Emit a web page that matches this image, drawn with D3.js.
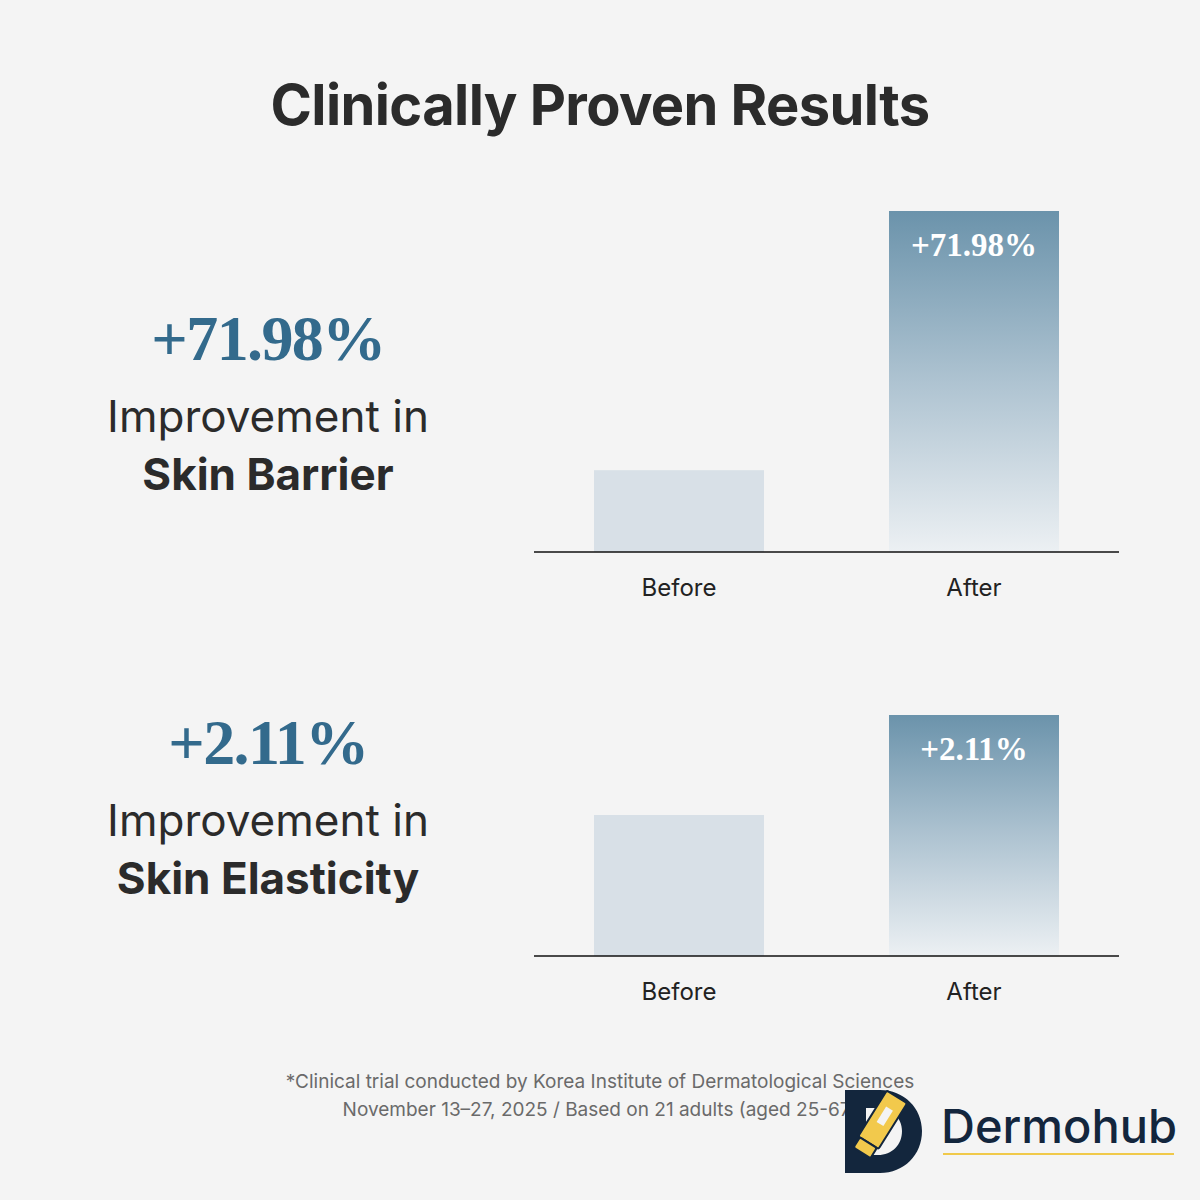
<!DOCTYPE html>
<html>
<head>
<meta charset="utf-8">
<script src="https://cdn.jsdelivr.net/npm/d3@7"></script>
<style>
  body { margin: 0; background: #f4f4f4; }
  svg { display: block; }
</style>
</head>
<body>
<div id="chart"></div>
<script>
// categories and values (bar heights are relative)
const categories = ["Before", "After"];
const barrierValues = [24, 100];
const elasticityValues = [58.5, 100];
const barrierLabel = "+71.98%";
const elasticityLabel = "+2.11%";
const metricNames = ["Skin Barrier", "Skin Elasticity"];
const footnotes = [
  "*Clinical trial conducted by Korea Institute of Dermatological Sciences",
  "November 13\u201327, 2025 / Based on 21 adults (aged 25-67)"
];

const W = 1200, H = 1200;
const sans = "Inter, 'Noto Sans', sans-serif";
const serif = "'Liberation Serif', 'DejaVu Serif', serif";

const svg = d3.select("#chart").append("svg")
  .attr("width", W).attr("height", H);

svg.append("rect").attr("width", W).attr("height", H).attr("fill", "#f4f4f4");

const defs = svg.append("defs");
const grad = defs.append("linearGradient")
  .attr("id", "afterGrad")
  .attr("x1", 0).attr("y1", 0).attr("x2", 0).attr("y2", 1);
grad.append("stop").attr("offset", "0%").attr("stop-color", "#6b93ab");
grad.append("stop").attr("offset", "50%").attr("stop-color", "#aec3d1");
grad.append("stop").attr("offset", "100%").attr("stop-color", "#ecf0f3");

// title
svg.append("text")
  .attr("x", 600).attr("y", 125)
  .attr("text-anchor", "middle")
  .attr("font-family", sans).attr("font-weight", 700)
  .attr("font-size", 56).attr("letter-spacing", -0.6)
  .attr("fill", "#2b2b2b")
  .text("Clinically Proven Results");

const x = d3.scaleBand()
  .domain(categories)
  .range([534, 1119])
  .paddingInner(0.4237)
  .paddingOuter(0.2034);

const panels = [
  { values: barrierValues, label: barrierLabel, name: metricNames[0], top: 211, base: 552, textY: 360 },
  { values: elasticityValues, label: elasticityLabel, name: metricNames[1], top: 715, base: 956, textY: 764 }
];

panels.forEach(p => {
  const y = d3.scaleLinear().domain([0, 100]).range([p.base, p.top]);
  const g = svg.append("g");

  g.selectAll("rect.bar")
    .data(categories.map((c, i) => ({ cat: c, v: p.values[i] })))
    .join("rect")
    .attr("class", "bar")
    .attr("x", d => x(d.cat))
    .attr("y", d => y(d.v))
    .attr("width", x.bandwidth())
    .attr("height", d => p.base - y(d.v))
    .attr("fill", d => d.cat === "After" ? "url(#afterGrad)" : "#d8e0e7");

  // value label inside the After bar
  g.append("text")
    .attr("x", x("After") + x.bandwidth() / 2)
    .attr("y", y(p.values[1]) + 45)
    .attr("text-anchor", "middle")
    .attr("font-family", serif).attr("font-weight", 700)
    .attr("font-size", 33).attr("fill", "#ffffff")
    .text(p.label);

  const axis = g.append("g")
    .attr("transform", `translate(0,${p.base})`)
    .call(d3.axisBottom(x).tickSize(0).tickPadding(27));
  axis.select(".domain")
    .attr("d", `M534,0H1119`)
    .attr("stroke", "#111").attr("stroke-width", 1.5);
  axis.selectAll(".tick text")
    .attr("font-family", sans).attr("font-size", 24)
    .attr("fill", "#222");

  // left side text
  g.append("text")
    .attr("x", 268).attr("y", p.textY)
    .attr("text-anchor", "middle")
    .attr("font-family", serif).attr("font-weight", 700)
    .attr("font-size", 64).attr("letter-spacing", -1.6)
    .attr("fill", "#336a8c")
    .text(p.label);
  g.append("text")
    .attr("x", 268).attr("y", p.textY + 72)
    .attr("text-anchor", "middle")
    .attr("font-family", sans).attr("font-weight", 400)
    .attr("font-size", 44).attr("fill", "#2b2b2b")
    .text("Improvement in");
  g.append("text")
    .attr("x", 268).attr("y", p.textY + 130)
    .attr("text-anchor", "middle")
    .attr("font-family", sans).attr("font-weight", 700)
    .attr("font-size", 44).attr("fill", "#2b2b2b")
    .text(p.name);
});

// footnote
svg.selectAll("text.foot")
  .data(footnotes)
  .join("text")
  .attr("class", "foot")
  .attr("x", 600)
  .attr("y", (d, i) => 1088 + i * 28)
  .attr("text-anchor", "middle")
  .attr("font-family", sans).attr("font-size", 19)
  .attr("fill", "#6a6a6a")
  .text(d => d);

// logo
const logo = svg.append("g");
logo.append("path")
  .attr("fill-rule", "evenodd")
  .attr("fill", "#13263d")
  .attr("d", "M845 1090 H880 C904 1090 922 1108 922 1131 C922 1155 904 1173 880 1173 H845 Z " +
             "M866 1108 H878 C892 1108 902 1118 902 1131 C902 1145 892 1155 878 1155 H866 Z");
logo.append("rect")
  .attr("x", -12).attr("y", -32).attr("width", 24).attr("height", 54)
  .attr("rx", 2)
  .attr("fill", "#f2c94c").attr("stroke", "#13263d").attr("stroke-width", 2)
  .attr("transform", "translate(880,1124) rotate(32)");
logo.append("rect")
  .attr("x", -4).attr("y", -18).attr("width", 8).attr("height", 18)
  .attr("fill", "#f4f4f4")
  .attr("transform", "translate(880,1124) rotate(32)");
logo.append("rect")
  .attr("x", -10).attr("y", 22).attr("width", 20).attr("height", 12)
  .attr("rx", 2)
  .attr("fill", "#f2c94c").attr("stroke", "#13263d").attr("stroke-width", 2)
  .attr("transform", "translate(880,1124) rotate(32)");

logo.append("text")
  .attr("x", 941).attr("y", 1143)
  .attr("font-family", sans).attr("font-weight", 500)
  .attr("font-size", 47).attr("fill", "#13263d")
  .text("Dermohub");
logo.append("line")
  .attr("x1", 943).attr("x2", 1174)
  .attr("y1", 1154).attr("y2", 1154)
  .attr("stroke", "#f0c94a").attr("stroke-width", 2);
</script>
</body>
</html>
